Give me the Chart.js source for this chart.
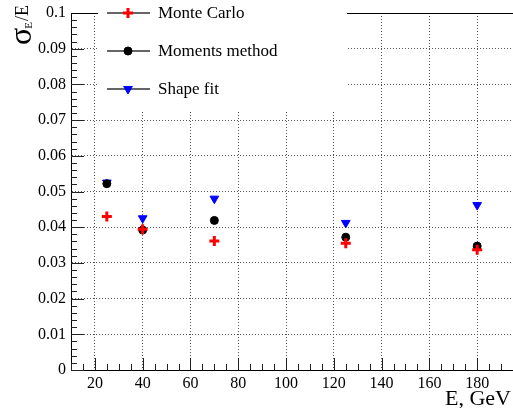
<!DOCTYPE html>
<html>
<head>
<meta charset="utf-8">
<script src="https://cdn.jsdelivr.net/npm/chart.js@4.4.1/dist/chart.umd.min.js"></script>
<style>
  html, body { margin: 0; padding: 0; background: #fff; }
  #wrap { width: 513px; height: 408px; }
</style>
</head>
<body>
<div id="wrap"><canvas id="res"></canvas></div>
<script>
// beam energies (GeV) and relative energy resolution for each method
const energies = [25, 40, 70, 125, 180];
const monteCarlo = [0.0430, 0.0394, 0.0361, 0.0355, 0.0337];
const moments = [0.0522, 0.0392, 0.0419, 0.0372, 0.0347];
const shapeFit = [0.0525, 0.0425, 0.0480, 0.0412, 0.0462];

const xTicks = [20, 40, 60, 80, 100, 120, 140, 160, 180];
const yTicks = [0, 0.01, 0.02, 0.03, 0.04, 0.05, 0.06, 0.07, 0.08, 0.09, 0.1];

const serif = "'Liberation Serif', serif";
Chart.defaults.font.family = serif;
Chart.defaults.font.size = 16;
Chart.defaults.color = '#000';

function pts(ys) {
  return energies.map((e, i) => ({x: e, y: ys[i]}));
}

const series = [
  {label: 'Monte Carlo', data: pts(monteCarlo), pointStyle: 'cross', pointRadius: 5,
   borderColor: '#ff0000', backgroundColor: '#ff0000', borderWidth: 3},
  {label: 'Moments method', data: pts(moments), pointStyle: 'circle', pointRadius: 4,
   borderColor: '#000000', backgroundColor: '#000000', borderWidth: 1},
  {label: 'Shape fit', data: pts(shapeFit), pointStyle: 'triangle', pointRadius: 5, rotation: 180,
   borderColor: '#0000ff', backgroundColor: '#0000ff', borderWidth: 1}
];

// inward ticks, frame top, legend box and axis titles in ROOT style
const rootStyle = {
  id: 'rootStyle',
  afterDraw(chart) {
    const ctx = chart.ctx;
    const a = chart.chartArea;
    const xs = chart.scales.x, ys = chart.scales.y;
    ctx.save();
    ctx.setLineDash([]);
    ctx.strokeStyle = '#222';
    ctx.lineWidth = 1;
    ctx.beginPath();
    // y ticks: major every 0.01, minor every 0.002
    for (let i = 0; i <= 50; i++) {
      const py = Math.round(ys.getPixelForValue(i * 0.002)) + 0.5;
      const len = i % 5 === 0 ? 13 : 6;
      ctx.moveTo(a.left, py);
      ctx.lineTo(a.left + len, py);
    }
    // x ticks: major every 20, minor every 5
    for (let v = 10; v <= 195; v += 5) {
      const px = Math.round(xs.getPixelForValue(v)) + 0.5;
      const len = v % 20 === 0 ? 12 : 6;
      ctx.moveTo(px, a.bottom);
      ctx.lineTo(px, a.bottom - len);
    }
    ctx.stroke();

    // top of frame
    ctx.strokeStyle = '#000';
    ctx.beginPath();
    ctx.moveTo(a.left, a.top + 0.5);
    ctx.lineTo(a.right, a.top + 0.5);
    ctx.stroke();

    // legend
    ctx.fillStyle = '#fff';
    ctx.fillRect(98, 0, 249, 110);
    const rows = [13, 51, 89];
    series.forEach((s, i) => {
      const y = rows[i];
      ctx.strokeStyle = '#333';
      ctx.lineWidth = 1.5;
      ctx.beginPath();
      ctx.moveTo(107, y);
      ctx.lineTo(150, y);
      ctx.stroke();
      ctx.fillStyle = s.backgroundColor;
      ctx.strokeStyle = s.borderColor;
      ctx.lineWidth = s.borderWidth;
      Chart.helpers.drawPoint(ctx, {pointStyle: s.pointStyle, radius: s.pointRadius,
        rotation: s.rotation || 0, borderWidth: s.borderWidth}, 128, y);
      ctx.fillStyle = '#000';
      ctx.font = '17px ' + serif;
      ctx.textBaseline = 'middle';
      ctx.textAlign = 'left';
      ctx.fillText(s.label, 158, y + 1);
    });

    // x axis title
    ctx.fillStyle = '#000';
    ctx.font = '22px ' + serif;
    ctx.textAlign = 'right';
    ctx.textBaseline = 'alphabetic';
    ctx.fillText('E, GeV', 511, 405);

    // y axis title: sigma_E / E, rotated
    ctx.translate(31, 45);
    ctx.rotate(-Math.PI / 2);
    ctx.textAlign = 'left';
    ctx.font = '32px ' + serif;
    ctx.fillText('σ', 0, 0);
    let w = ctx.measureText('σ').width;
    ctx.font = '11px ' + serif;
    ctx.fillText('E', w - 1, 1);
    w += ctx.measureText('E').width;
    ctx.font = '18px ' + serif;
    ctx.fillText('/E', w, -3);
    ctx.restore();
  }
};

new Chart(document.getElementById('res'), {
  type: 'scatter',
  data: {datasets: series},
  plugins: [rootStyle],
  options: {
    responsive: true,
    maintainAspectRatio: false,
    animation: false,
    events: [],
    layout: {autoPadding: false, padding: {top: 13, right: 0, left: 0, bottom: 0}},
    plugins: {
      legend: {display: false},
      tooltip: {enabled: false}
    },
    scales: {
      x: {
        type: 'linear',
        min: 10,
        max: 195,
        afterBuildTicks: (scale) => { scale.ticks = xTicks.map(v => ({value: v})); },
        afterFit: (scale) => {
          scale.height = 38;
          scale.paddingLeft = 0;
          scale.paddingRight = 0;
        },
        grid: {color: '#555', lineWidth: 1, drawTicks: false},
        border: {display: true, color: '#000', width: 1, dash: [1, 2]},
        ticks: {color: '#000', padding: 4, maxRotation: 0, font: {family: serif, size: 16}}
      },
      y: {
        type: 'linear',
        min: 0,
        max: 0.1,
        afterBuildTicks: (scale) => { scale.ticks = yTicks.map(v => ({value: v})); },
        afterFit: (scale) => {
          scale.width = 71;
          scale.paddingTop = 0;
          scale.paddingBottom = 0;
        },
        grid: {color: '#555', lineWidth: 1, drawTicks: false},
        border: {display: true, color: '#000', width: 1, dash: [1, 2]},
        ticks: {color: '#000', padding: 5, font: {family: serif, size: 16},
          callback: (v) => String(+v.toFixed(2))}
      }
    }
  }
});
</script>
</body>
</html>
